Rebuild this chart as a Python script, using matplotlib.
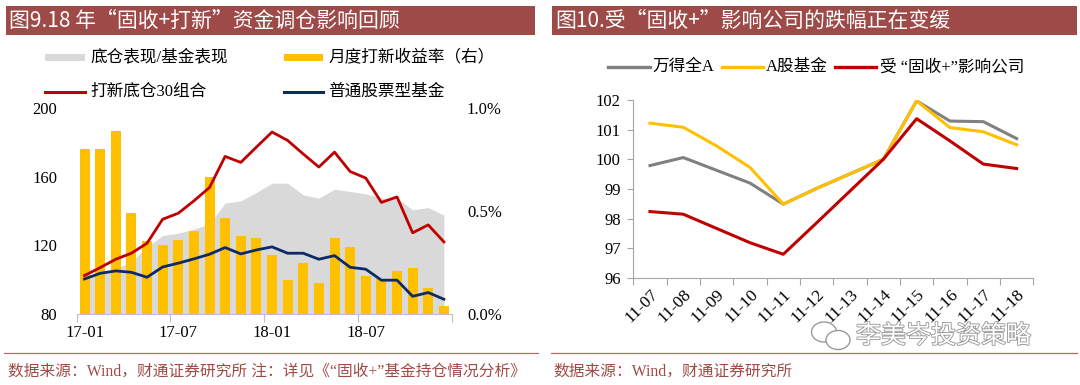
import matplotlib
matplotlib.use('Agg')
import matplotlib.pyplot as plt
from matplotlib.patches import Rectangle, Ellipse
from matplotlib.lines import Line2D
from matplotlib.ticker import FuncFormatter
import matplotlib.patheffects as pe

# ---------------- data ----------------
months = ['17-01', '17-02', '17-03', '17-04', '17-05', '17-06',
          '17-07', '17-08', '17-09', '17-10', '17-11', '17-12',
          '18-01', '18-02', '18-03', '18-04', '18-05', '18-06',
          '18-07', '18-08', '18-09', '18-10', '18-11', '18-12']
left_tick_labels = ['17-01', '17-07', '18-01', '18-07']

ratio_vals = [102.0, 103.3, 106.5, 110.5, 119.0, 125.7, 127.1, 129.4, 132.5,
              144.6, 145.9, 150.8, 156.2, 156.2, 149.4, 147.5, 152.7, 151.4,
              150.0, 147.5, 147.5, 140.7, 142.0, 137.6]
ipo_yield = [0.80, 0.80, 0.89, 0.49, 0.355, 0.335, 0.357, 0.405, 0.664, 0.465,
             0.381, 0.371, 0.287, 0.167, 0.248, 0.152, 0.371, 0.324, 0.185,
             0.172, 0.21, 0.222, 0.127, 0.041]
ipo30 = [102.4, 107.0, 111.9, 115.4, 121.2, 135.2, 138.7, 145.9, 153.7, 171.8,
         168.3, 177.2, 186.0, 181.1, 173.2, 165.6, 174.3, 163.0, 159.2, 145.0,
         148.2, 127.3, 131.9, 122.0]
stock_fund = [100.4, 103.7, 105.1, 104.3, 101.4, 107.4, 109.6, 112.1, 114.8,
              118.7, 115.0, 117.3, 119.1, 115.4, 115.4, 111.9, 114.0, 107.2,
              106.1, 99.7, 99.7, 90.3, 92.5, 88.6]

dates = ['11-07', '11-08', '11-09', '11-10', '11-11', '11-12',
         '11-13', '11-14', '11-15', '11-16', '11-17', '11-18']
wind_a = [99.79, 100.06, 99.63, 99.20, 98.49, 99.02, 99.51, 100.0, 101.97,
          101.29, 101.27, 100.70]
a_fund = [101.22, 101.08, 100.45, 99.73, 98.49, 99.02, 99.51, 100.0, 101.97,
          101.07, 100.93, 100.49]
affected = [98.24, 98.15, 97.67, 97.19, 96.80, 97.86, 98.93, 100.0, 101.37,
            100.62, 99.84, 99.69]

# ---------------- style ----------------
W, H = 1080, 385
SERIF = ['Liberation Serif', 'Noto Sans CJK SC']
CJK = ['Noto Sans CJK SC', 'DejaVu Sans']
BAND = '#9E4A48'
FOOT = '#A04A45'
C_GRAY_AREA = '#D9D9D9'
C_YEL = '#FFC000'
C_RED = '#C00000'
C_NAVY = '#0D2A66'
C_GRAY = '#808080'
C_AX = '#A6A6A6'

fig = plt.figure(figsize=(10.8, 3.85), dpi=100)


def fx(px):
    return px / W


def fy(py):
    return 1 - py / H


# ---------------- title bands ----------------
for x0, x1, txt in [(6, 535, '图9.18 年“固收+打新”资金调仓影响回顾'),
                    (552, 1077, '图10.受“固收+”影响公司的跌幅正在变缓')]:
    fig.patches.append(Rectangle((fx(x0), fy(35)), (x1 - x0) / W, 29 / H,
                                 transform=fig.transFigure, color=BAND, lw=0))
    fig.text(fx(x0 + 3), fy(20.5), txt, color='white', fontsize=15,
             family=CJK, ha='left', va='center')

# ---------------- left chart ----------------
rect_l = [fx(76.7), fy(314), 375 / W, 206 / H]
ax_g = fig.add_axes(rect_l)
ax_b = ax_g.twinx()
ax_l = fig.add_axes(rect_l, sharex=ax_g, sharey=ax_g)
ax_l.patch.set_visible(False)
ax_l.axis('off')
ax_b.patch.set_visible(False)

x_l = list(range(len(months)))
ax_g.fill_between(x_l, 80, ratio_vals, color=C_GRAY_AREA, lw=0)
ax_b.bar(x_l, ipo_yield, width=0.64, color=C_YEL, lw=0)
ax_l.plot(x_l, ipo30, color=C_RED, lw=2.0)
ax_l.plot(x_l, stock_fund, color=C_NAVY, lw=2.0)

ax_g.set_xlim(-0.5, len(months) - 0.5)
ax_g.set_ylim(80, 200)
ax_b.set_ylim(0, 1.0)
ax_g.set_yticks([80, 120, 160, 200])
ax_b.set_yticks([0, 0.5, 1.0])
ax_b.yaxis.set_major_formatter(FuncFormatter(lambda v, p: f'{v:.1f}%'))
for a in (ax_g, ax_b):
    for s in a.spines.values():
        s.set_visible(False)
ax_g.spines['bottom'].set_visible(True)
ax_g.spines['bottom'].set_color('#BFBFBF')
ax_g.tick_params(axis='y', length=0, pad=14, labelsize=12)
ax_b.tick_params(axis='y', length=0, pad=11, labelsize=12)
for lab in ax_g.get_yticklabels() + ax_b.get_yticklabels():
    lab.set_family(SERIF)

major_l = [i - 0.5 for i in range(0, len(months) + 1, 6)]
ax_g.set_xticks(major_l)
ax_g.set_xticklabels([''] * len(major_l))
ax_g.set_xticks([months.index(m) for m in left_tick_labels], minor=True)
ax_g.set_xticklabels(left_tick_labels, minor=True, family=SERIF, fontsize=12)
ax_g.tick_params(axis='x', which='major', length=6, color='#BFBFBF',
                 direction='out')
ax_g.tick_params(axis='x', which='minor', length=0, pad=8)


# ---------------- legends (drawn in figure pixels) ----------------
def leg_patch(x0, x1, y, color, h=7.5):
    fig.patches.append(Rectangle((fx(x0), fy(y + h / 2)), (x1 - x0) / W, h / H,
                                 transform=fig.transFigure, color=color, lw=0))


def leg_line(x0, x1, y, color, lw=2.2):
    fig.add_artist(Line2D([fx(x0), fx(x1)], [fy(y), fy(y)],
                          transform=fig.transFigure, color=color, lw=lw))


def leg_text(x, y, s, size=12):
    fig.text(fx(x), fy(y), s, ha='left', va='center', fontsize=size,
             family=SERIF)


leg_patch(45, 85, 57.3, C_GRAY_AREA)
leg_text(90, 57.3, '底仓表现/基金表现')
leg_patch(284, 323, 57.3, C_YEL)
leg_text(328, 57.3, '月度打新收益率（右）')
leg_line(45, 85, 91.7, C_RED)
leg_text(90, 91.7, '打新底仓30组合')
leg_line(284, 323, 91.7, C_NAVY)
leg_text(328, 91.7, '普通股票型基金')

# ---------------- right chart ----------------
ax2 = fig.add_axes([fx(633.3), fy(278), 400 / W, 178 / H])
x_r = list(range(len(dates)))
ax2.plot(x_r, wind_a, color=C_GRAY, lw=2.2)
ax2.plot(x_r, a_fund, color=C_YEL, lw=2.2)
ax2.plot(x_r, affected, color=C_RED, lw=2.2)
ax2.set_xlim(-0.5, len(dates) - 0.5)
ax2.set_ylim(96, 102)
ax2.set_yticks(range(96, 103))
for s in ('top', 'right'):
    ax2.spines[s].set_visible(False)
for s in ('left', 'bottom'):
    ax2.spines[s].set_color(C_AX)
ax2.tick_params(axis='y', length=4, color=C_AX, pad=5, labelsize=12)
for lab in ax2.get_yticklabels():
    lab.set_family(SERIF)
ax2.set_xticks([i - 0.5 for i in range(len(dates) + 1)])
ax2.set_xticklabels([''] * (len(dates) + 1))
ax2.tick_params(axis='x', which='major', length=5, color=C_AX)
ax2.set_xticks(x_r, minor=True)
ax2.set_xticklabels(dates, minor=True, rotation=45, ha='right',
                    rotation_mode='anchor', family=SERIF, fontsize=12.5)
ax2.tick_params(axis='x', which='minor', length=0, pad=6)

ry = 67
leg_line(608, 650, ry, C_GRAY, 2.4)
leg_text(652, ry, '万得全A')
leg_line(722, 763, ry, C_YEL, 2.4)
leg_text(766, ry, 'A股基金')
leg_line(835, 876, ry, C_RED, 2.4)
leg_text(880, ry, '受 “固收+”影响公司')

# ---------------- footer ----------------
fig.add_artist(Line2D([fx(4), fx(538)], [fy(353), fy(353)],
                      transform=fig.transFigure, color='#B86A66', lw=0.9))
fig.add_artist(Line2D([fx(551), fx(1077)], [fy(353), fy(353)],
                      transform=fig.transFigure, color='#B86A66', lw=0.9))
fig.text(fx(8), fy(372), '数据来源：Wind，财通证券研究所 注：详见《“固收+”基金持仓情况分析》',
         ha='left', va='center', fontsize=11.3, color=FOOT, family=SERIF)
fig.text(fx(553), fy(372), '数据来源：Wind，财通证券研究所',
         ha='left', va='center', fontsize=11.3, color=FOOT, family=SERIF)

# ---------------- watermark ----------------
outline = [pe.withStroke(linewidth=1.3, foreground='#9A9A9A')]
e1 = Ellipse((fx(824), fy(332)), 25 / W, 20 / H, transform=fig.transFigure,
             facecolor='white', edgecolor='#9A9A9A', lw=1.0, zorder=10)
e2 = Ellipse((fx(838), fy(340)), 24 / W, 19 / H, transform=fig.transFigure,
             facecolor='white', edgecolor='#9A9A9A', lw=1.0, zorder=11)
fig.patches.extend([e1, e2])
t = fig.text(fx(856), fy(336), '李美岑投资策略', ha='left', va='center',
             fontsize=18, color='white', family=CJK, zorder=12)
t.set_path_effects(outline)

fig.savefig('out.png', dpi=100)
